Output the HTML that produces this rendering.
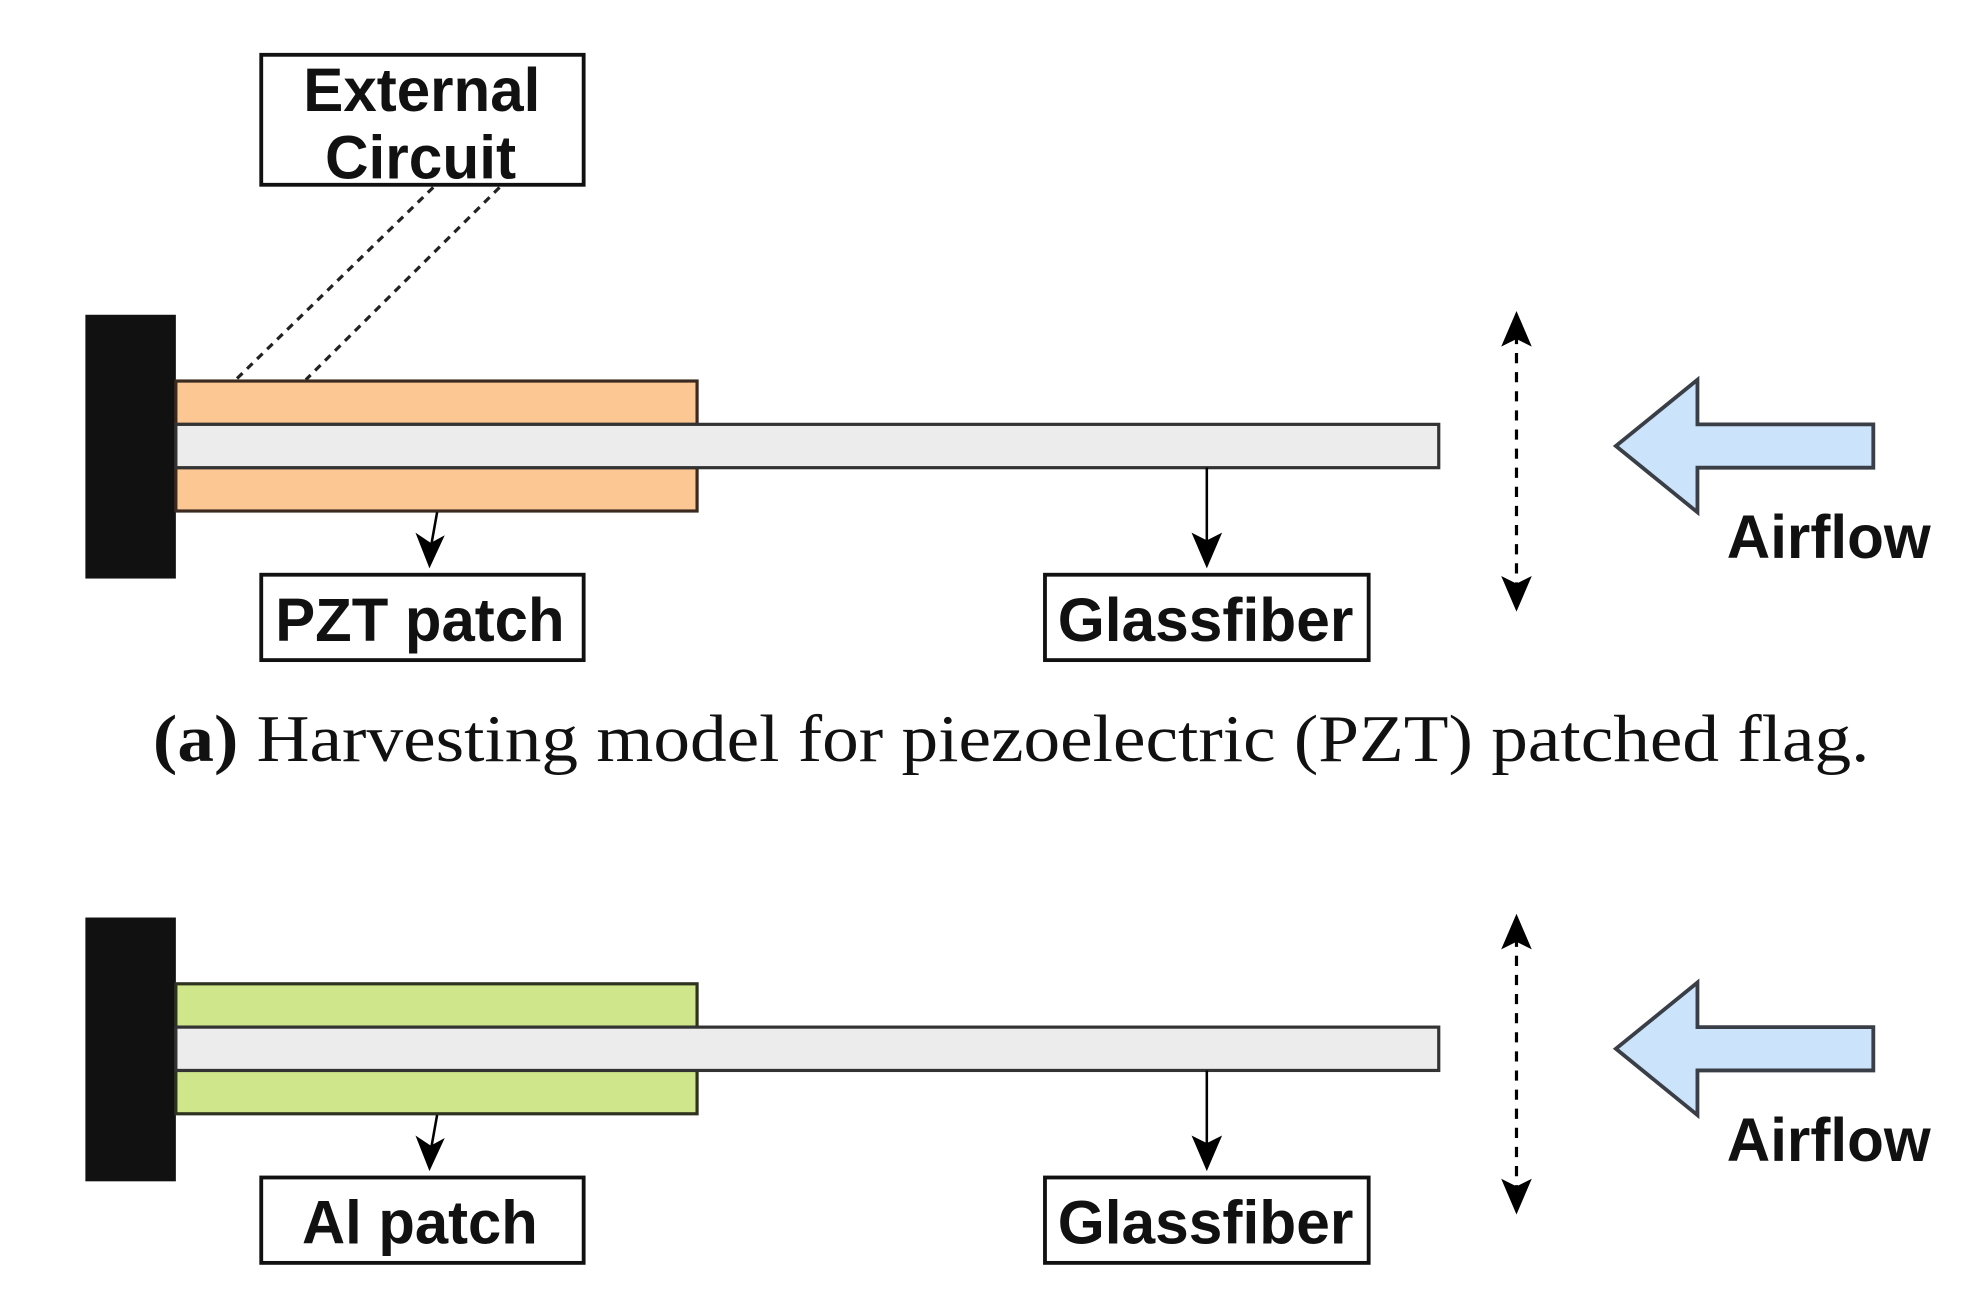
<!DOCTYPE html>
<html><head><meta charset="utf-8"><style>
html,body{margin:0;padding:0;background:#fff;}
svg{display:block;}
.lbl{font-family:"Liberation Sans",sans-serif;font-weight:bold;font-size:48px;fill:#111;}
.cap{font-family:"Liberation Serif",serif;font-size:52px;fill:#111;}
</style></head><body>
<svg width="1988" height="1289" viewBox="0 0 1560 1011.5" preserveAspectRatio="none" xmlns="http://www.w3.org/2000/svg">

<g id="panelA">
<rect x="205" y="43" width="253" height="102" fill="#fff" stroke="#111" stroke-width="3"/>
<text class="lbl" x="238" y="87" textLength="186" lengthAdjust="spacingAndGlyphs">External</text>
<text class="lbl" x="255" y="140" textLength="150" lengthAdjust="spacingAndGlyphs">Circuit</text>
<line x1="340" y1="147" x2="185" y2="298" stroke="#222" stroke-width="2.5" stroke-dasharray="6,5"/>
<line x1="392" y1="147" x2="240" y2="298" stroke="#222" stroke-width="2.5" stroke-dasharray="6,5"/>
<rect x="67" y="247" width="71" height="207" fill="#111"/>
<rect x="138" y="299" width="409" height="34" fill="#fcc793" stroke="#3a2a20" stroke-width="2.5"/>
<rect x="138" y="367" width="409" height="34" fill="#fcc793" stroke="#3a2a20" stroke-width="2.5"/>
<rect x="138" y="333" width="991" height="34" fill="#ececec" stroke="#333" stroke-width="2.5"/>
<line x1="343" y1="402" x2="338" y2="430" stroke="#000" stroke-width="2"/>
<polygon points="326,418 337,446 349,420 338,426" fill="#000"/>
<rect x="205" y="451" width="253" height="67" fill="#fff" stroke="#111" stroke-width="3"/>
<text class="lbl" x="216" y="503" textLength="227" lengthAdjust="spacingAndGlyphs">PZT patch</text>
<line x1="947" y1="367" x2="947" y2="430" stroke="#000" stroke-width="2"/>
<polygon points="935,418 947,446 959,418 947,424" fill="#000"/>
<rect x="820" y="451" width="254" height="67" fill="#fff" stroke="#111" stroke-width="3"/>
<text class="lbl" x="830" y="503" textLength="232" lengthAdjust="spacingAndGlyphs">Glassfiber</text>
<line x1="1190" y1="262" x2="1190" y2="466" stroke="#000" stroke-width="2.5" stroke-dasharray="8,7"/>
<polygon points="1190,244 1178,272 1190,266 1202,272" fill="#000"/>
<polygon points="1190,480 1178,452 1190,458 1202,452" fill="#000"/>
<path d="M1268,350 L1332,298 L1332,333 L1470,333 L1470,367 L1332,367 L1332,402 Z" fill="#cce4fb" stroke="#3a3f47" stroke-width="3"/>
<text class="lbl" x="1355" y="438" textLength="160" lengthAdjust="spacingAndGlyphs">Airflow</text>
</g>

<text class="cap" x="120" y="597" textLength="1347" lengthAdjust="spacingAndGlyphs"><tspan font-weight="bold">(a)</tspan> Harvesting model for piezoelectric (PZT) patched flag.</text>

<g transform="translate(0,473)">
<rect x="67" y="247" width="71" height="207" fill="#111"/>
<rect x="138" y="299" width="409" height="34" fill="#cfe68a" stroke="#2e3320" stroke-width="2.5"/>
<rect x="138" y="367" width="409" height="34" fill="#cfe68a" stroke="#2e3320" stroke-width="2.5"/>
<rect x="138" y="333" width="991" height="34" fill="#ececec" stroke="#333" stroke-width="2.5"/>
<line x1="343" y1="402" x2="338" y2="430" stroke="#000" stroke-width="2"/>
<polygon points="326,418 337,446 349,420 338,426" fill="#000"/>
<rect x="205" y="451" width="253" height="67" fill="#fff" stroke="#111" stroke-width="3"/>
<text class="lbl" x="237" y="503" textLength="185" lengthAdjust="spacingAndGlyphs">Al patch</text>
<line x1="947" y1="367" x2="947" y2="430" stroke="#000" stroke-width="2"/>
<polygon points="935,418 947,446 959,418 947,424" fill="#000"/>
<rect x="820" y="451" width="254" height="67" fill="#fff" stroke="#111" stroke-width="3"/>
<text class="lbl" x="830" y="503" textLength="232" lengthAdjust="spacingAndGlyphs">Glassfiber</text>
<line x1="1190" y1="262" x2="1190" y2="466" stroke="#000" stroke-width="2.5" stroke-dasharray="8,7"/>
<polygon points="1190,244 1178,272 1190,266 1202,272" fill="#000"/>
<polygon points="1190,480 1178,452 1190,458 1202,452" fill="#000"/>
<path d="M1268,350 L1332,298 L1332,333 L1470,333 L1470,367 L1332,367 L1332,402 Z" fill="#cce4fb" stroke="#3a3f47" stroke-width="3"/>
<text class="lbl" x="1355" y="438" textLength="160" lengthAdjust="spacingAndGlyphs">Airflow</text>
</g>
</svg>
</body></html>
